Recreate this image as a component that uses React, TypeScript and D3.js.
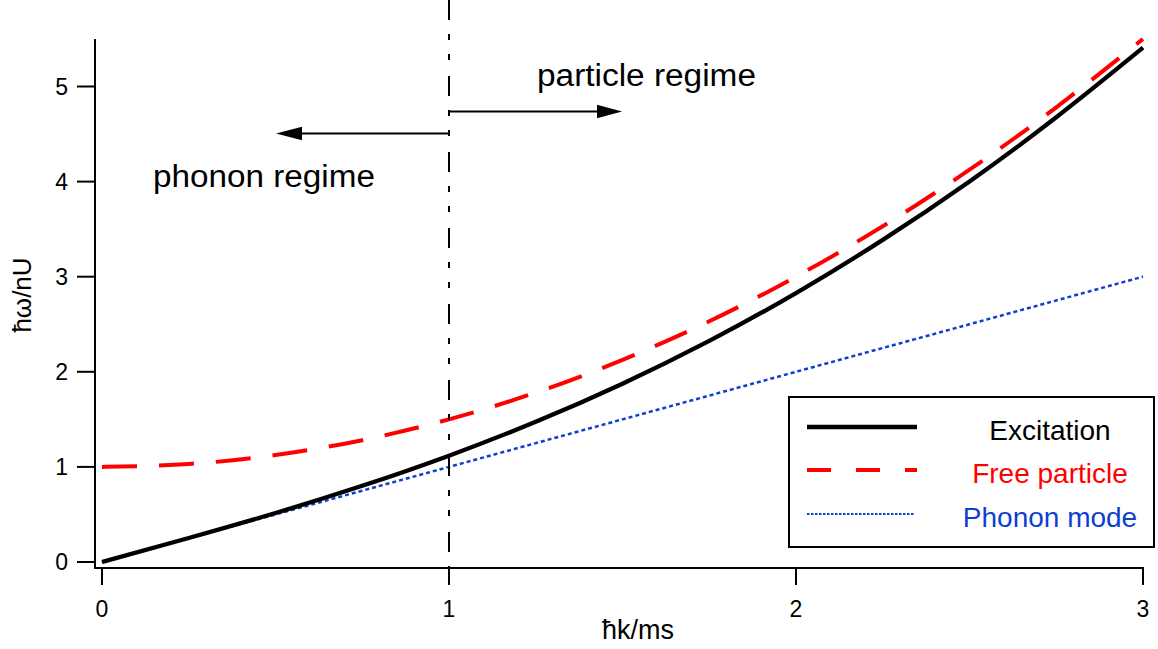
import React from "react";
import * as d3 from "d3";

const kValues = [0, 0.25, 0.5, 0.75, 1, 1.25, 1.5, 1.75, 2, 2.25, 2.5, 2.75, 3];
const excitation = [0, 0.252, 0.515, 0.801, 1.118, 1.474, 1.875, 2.325, 2.828, 3.387, 4.002, 4.676, 5.408];
const freeParticle = [1, 1.031, 1.125, 1.281, 1.5, 1.781, 2.125, 2.531, 3, 3.531, 4.125, 4.781, 5.5];
const phonon = [0, 0.25, 0.5, 0.75, 1, 1.25, 1.5, 1.75, 2, 2.25, 2.5, 2.75, 3];
const xTicks = [0, 1, 2, 3];
const yTicks = [0, 1, 2, 3, 4, 5];
const legendItems = ["Excitation", "Free particle", "Phonon mode"];
const regimeBoundary = 1;

const W = 1158;
const H = 649;
const FONT = "'Liberation Sans', Arial, Helvetica, sans-serif";
const BLUE = "#0f3fd0";

export default function App() {
  const x = d3.scaleLinear().domain([0, 3]).range([102, 1143]);
  const y = d3.scaleLinear().domain([0, 5]).range([562, 86.5]);
  const axisX = 95;
  const axisY = 568;

  const mk = (vals: number[]) =>
    d3
      .line<number>()
      .x((_, i) => x(kValues[i]))
      .y((v) => y(v))
      .curve(d3.curveNatural)(vals) as string;

  const bx = x(regimeBoundary);

  return (
    <svg
      width={W}
      height={H}
      style={{ position: "absolute", left: 0, top: 0, background: "#fff" }}
      fontFamily={FONT}
    >
      <rect x={0} y={0} width={W} height={H} fill="#fff" />
      {/* axes */}
      <line x1={axisX} x2={axisX} y1={39} y2={axisY + 1} stroke="#000" strokeWidth={2} />
      <line x1={axisX - 1} x2={x(3) + 1} y1={axisY} y2={axisY} stroke="#000" strokeWidth={2} />
      {yTicks.map((t) => (
        <g key={"y" + t}>
          <line x1={77} x2={axisX} y1={y(t)} y2={y(t)} stroke="#000" strokeWidth={2} />
          <text x={68} y={y(t) + 8} textAnchor="end" fontSize={23} fill="#000">
            {t}
          </text>
        </g>
      ))}
      {xTicks.map((t) => (
        <g key={"x" + t}>
          <line x1={x(t)} x2={x(t)} y1={axisY} y2={585} stroke="#000" strokeWidth={2} />
          <text x={x(t)} y={617} textAnchor="middle" fontSize={23} fill="#000">
            {t}
          </text>
        </g>
      ))}
      <text x={638} y={639} textAnchor="middle" fontSize={27} fill="#000">
        ħk/ms
      </text>
      <text
        transform={`translate(31,295) rotate(-90)`}
        textAnchor="middle"
        fontSize={26}
        fill="#000"
      >
        ħω/nU
      </text>

      {/* curves */}
      <path d={mk(phonon)} fill="none" stroke={BLUE} strokeWidth={2.5} strokeDasharray="4,3" />
      <path d={mk(freeParticle)} fill="none" stroke="#ff0000" strokeWidth={4} strokeDasharray="35,22" />
      <path d={mk(excitation)} fill="none" stroke="#000" strokeWidth={4.3} />

      {/* regime boundary */}
      <line
        x1={bx}
        x2={bx}
        y1={0}
        y2={axisY}
        stroke="#000"
        strokeWidth={2}
        strokeDasharray="20,14,6,14,6,16"
      />
      {/* arrows */}
      <line x1={bx} x2={598} y1={111.5} y2={111.5} stroke="#000" strokeWidth={2} />
      <path d={`M597,104.8 L622,111.5 L597,118.2 Z`} fill="#000" />
      <line x1={bx} x2={300} y1={133.5} y2={133.5} stroke="#000" strokeWidth={2} />
      <path d={`M302,126.8 L276,133.5 L302,140.2 Z`} fill="#000" />
      <text x={537} y={86} fontSize={31} fill="#000" textLength={219} lengthAdjust="spacingAndGlyphs">
        particle regime
      </text>
      <text x={153} y={187} fontSize={31} fill="#000" textLength={222} lengthAdjust="spacingAndGlyphs">
        phonon regime
      </text>

      {/* legend */}
      <rect x={789} y={397} width={365} height={150} fill="#fff" stroke="#000" strokeWidth={2} />
      <line x1={807} x2={917} y1={427} y2={427} stroke="#000" strokeWidth={4.3} />
      <line x1={807} x2={917} y1={470} y2={470} stroke="#ff0000" strokeWidth={4} strokeDasharray="24,25" />
      <line x1={807} x2={915} y1={514} y2={514} stroke={BLUE} strokeWidth={2} strokeDasharray="2.5,1.5" />
      <text x={1050} y={440} textAnchor="middle" fontSize={28} fill="#000">
        {legendItems[0]}
      </text>
      <text x={1050} y={483} textAnchor="middle" fontSize={28} fill="#ff0000">
        {legendItems[1]}
      </text>
      <text x={1050} y={527} textAnchor="middle" fontSize={28} fill={BLUE}>
        {legendItems[2]}
      </text>
    </svg>
  );
}
